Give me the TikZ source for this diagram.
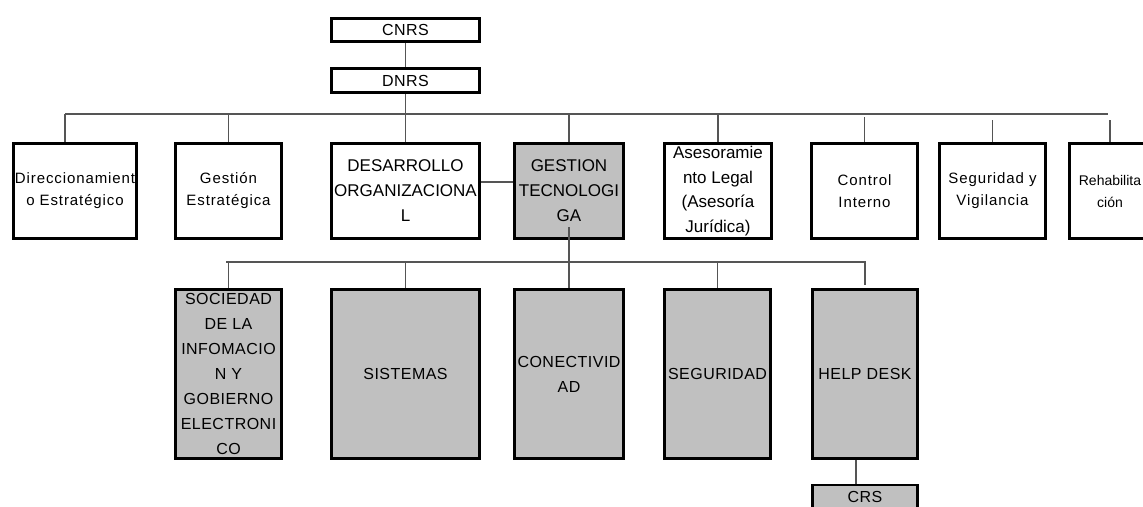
\documentclass[tikz,border=0pt]{standalone}
\usepackage{fontspec}
\setmainfont{Liberation Sans}
\newfontfamily\spaced{Liberation Sans}[LetterSpace=6]
\newfontfamily\lowspaced{Liberation Sans}[LetterSpace=3]
\usepackage{tikz}
\usetikzlibrary{calc}
\definecolor{boxgray}{RGB}{192,192,192}
\definecolor{linegray}{RGB}{85,85,85}

\begin{document}
\begin{tikzpicture}[x=1pt, y=-1pt,
  unit/.style={draw=black, line width=2.8pt, fill=white, align=center, inner sep=0pt, minimum height=95pt},
  shaded/.style={unit, fill=boxgray},
  link/.style={draw=linegray, line width=1.5pt},
  small/.style={font=\spaced\fontsize{15}{22}\selectfont},
  caps/.style={font=\fontsize{17}{25}\selectfont},
  low/.style={shaded, minimum height=169pt, font=\lowspaced\fontsize{16}{25}\selectfont}]
% Page of the reference
\useasboundingbox (0,0) rectangle (1143,506);

% Rows
\pgfmathsetmacro{\topY}{191}
\pgfmathsetmacro{\lowY}{374}

% Head
\node[unit, minimum width=148pt, minimum height=23pt, font=\lowspaced\fontsize{16}{20}\selectfont] (cnrs) at (405.5,30) {CNRS};
\node[unit, minimum width=148pt, minimum height=24pt, font=\lowspaced\fontsize{16}{20}\selectfont] (dnrs) at (405.5,80.5) {DNRS};

% First level
\node[unit, small, minimum width=123pt] (direc) at (75,\topY) {Direccionamient\\o Estratégico};
\node[unit, small, minimum width=106pt] (gestest) at (228.5,\topY) {Gestión\\Estratégica};
\node[unit, caps, minimum width=148pt] (desarrollo) at (405.5,\topY) {DESARROLLO\\ORGANIZACIONA\\L};
\node[shaded, caps, minimum width=109pt] (gestec) at (569,\topY) {GESTION\\TECNOLOGI\\GA};
\node[unit, font=\fontsize{17}{24.5}\selectfont, minimum width=107pt] (asesor) at (718,\topY) {Asesoramie\\nto Legal\\(Asesoría\\Jurídica)};
\node[unit, small, minimum width=106pt] (control) at (864.5,\topY) {Control\\Interno};
\node[unit, small, minimum width=106pt] (segvig) at (992.5,\topY) {Seguridad y\\Vigilancia};
\node[unit, font=\fontsize{14}{22}\selectfont, minimum width=81pt] (rehab) at (1110,\topY) {Rehabilita\\ción};

% Second level
\node[low, minimum width=106pt] (socied) at (228.5,\lowY) {SOCIEDAD\\DE LA\\INFOMACIO\\N Y\\GOBIERNO\\ELECTRONI\\CO};
\node[low, minimum width=148pt] (sistemas) at (405.5,\lowY) {SISTEMAS};
\node[low, minimum width=109pt] (conect) at (569,\lowY) {CONECTIVID\\AD};
\node[low, minimum width=106pt] (segur) at (717.5,\lowY) {SEGURIDAD};
\node[low, minimum width=105pt] (help) at (865,\lowY) {HELP DESK};
\node[shaded, minimum width=105pt, minimum height=24pt, font=\lowspaced\fontsize{16}{20}\selectfont] (crs) at (865,497) {CRS};

% Bars
\coordinate (barL) at (65,114);
\coordinate (barR) at (1108,114);
\coordinate (barB) at (226,262);

\draw[link] (cnrs) -- (dnrs);
\draw[link] (dnrs.south) -- (desarrollo.north);
\draw[link] (barL) -- (barR);
\draw[link] (barL) -- (barL |- direc.north);
\draw[link] (gestest.north) -- (gestest.north |- barL);
\draw[link] (gestec.north) -- (gestec.north |- barL);
\draw[link] (asesor.north) -- (asesor.north |- barL);
\draw[link, shorten >=3pt] (control.north) -- (control.north |- barL);
\draw[link, shorten >=6pt] (segvig.north) -- (segvig.north |- barL);
\draw[link, shorten >=6pt] (rehab.north) -- (rehab.north |- barL);
\draw[link] ([yshift=9pt]desarrollo.east) -- ([yshift=9pt]gestec.west);

% Down from GESTION TECNOLOGICA
\draw[link] ([yshift=-36pt]gestec.center) -- (conect.north);
\draw[link, shorten >=3pt] (barB) -| (help.north);
\draw[link] (socied.north) -- (socied.north |- barB);
\draw[link] (sistemas.north) -- (sistemas.north |- barB);
\draw[link] (segur.north) -- (segur.north |- barB);
\draw[link] ([xshift=-9pt]help.south) -- ([xshift=-9pt]crs.north);
\end{tikzpicture}
\end{document}
